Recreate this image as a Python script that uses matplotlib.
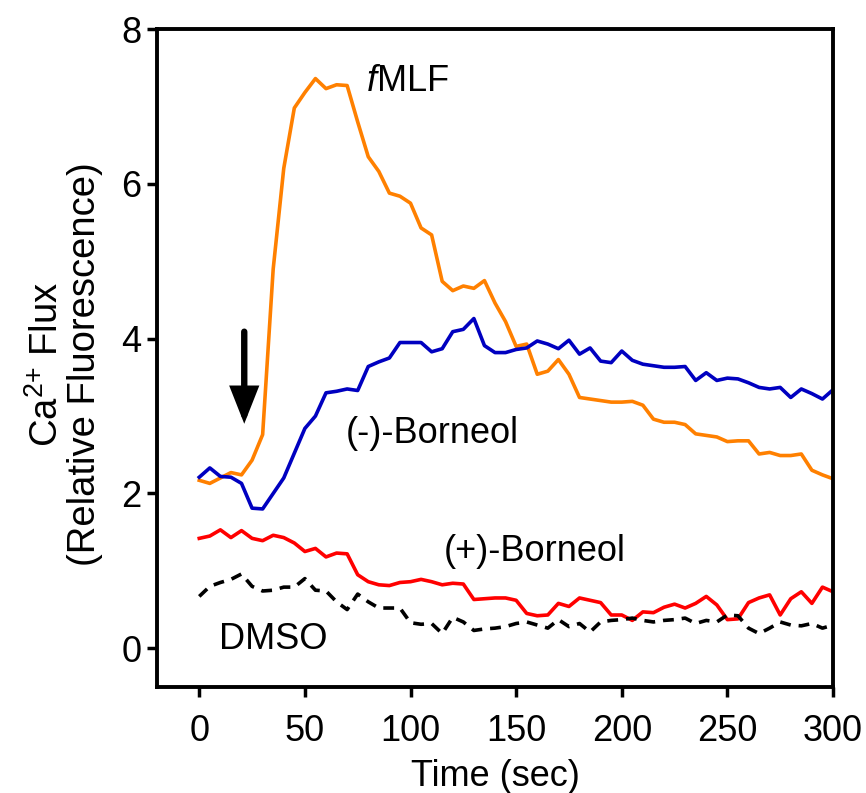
import numpy as np
import matplotlib
matplotlib.use("Agg")
import matplotlib.pyplot as plt

plt.rcParams['font.family'] = ['Liberation Sans', 'DejaVu Sans']
plt.rcParams['mathtext.fontset'] = 'custom'
plt.rcParams['mathtext.rm'] = 'Liberation Sans'
plt.rcParams['mathtext.it'] = 'Liberation Sans:italic'

# time points (sec), one every 5 s
time = np.arange(0, 301, 5)

fmlf = [2.17, 2.13, 2.20, 2.27, 2.24, 2.43, 2.76, 4.90, 6.20, 6.98,
        7.18, 7.36, 7.23, 7.28, 7.27, 6.80, 6.35, 6.16, 5.88, 5.84,
        5.75, 5.43, 5.34, 4.74, 4.62, 4.68, 4.65, 4.75, 4.46, 4.22,
        3.90, 3.93, 3.54, 3.58, 3.73, 3.54, 3.24, 3.22, 3.20, 3.18,
        3.18, 3.19, 3.14, 2.96, 2.92, 2.92, 2.89, 2.77, 2.75, 2.73,
        2.67, 2.68, 2.68, 2.51, 2.53, 2.49, 2.49, 2.51, 2.30, 2.24,
        2.19]

minus_borneol = [2.21, 2.33, 2.22, 2.21, 2.13, 1.81, 1.80, 2.00, 2.20, 2.52,
                 2.84, 3.00, 3.30, 3.32, 3.35, 3.33, 3.64, 3.70, 3.75, 3.95,
                 3.95, 3.95, 3.83, 3.87, 4.09, 4.12, 4.26, 3.91, 3.82, 3.82,
                 3.86, 3.88, 3.97, 3.93, 3.87, 3.98, 3.80, 3.88, 3.71, 3.69,
                 3.84, 3.72, 3.67, 3.65, 3.63, 3.63, 3.64, 3.46, 3.56, 3.46,
                 3.49, 3.48, 3.43, 3.37, 3.35, 3.37, 3.24, 3.35, 3.29, 3.22,
                 3.34]

plus_borneol = [1.42, 1.45, 1.53, 1.43, 1.52, 1.42, 1.39, 1.46, 1.43, 1.36,
                1.25, 1.29, 1.18, 1.23, 1.22, 0.95, 0.86, 0.82, 0.81, 0.85,
                0.86, 0.89, 0.86, 0.82, 0.84, 0.83, 0.63, 0.64, 0.65, 0.65,
                0.62, 0.45, 0.42, 0.43, 0.58, 0.54, 0.65, 0.62, 0.59, 0.43,
                0.43, 0.36, 0.47, 0.46, 0.53, 0.57, 0.52, 0.58, 0.67, 0.56,
                0.37, 0.38, 0.59, 0.65, 0.69, 0.43, 0.64, 0.73, 0.58, 0.79,
                0.73]

dmso = [0.67, 0.80, 0.85, 0.89, 0.96, 0.80, 0.74, 0.75, 0.79, 0.79,
        0.90, 0.75, 0.74, 0.60, 0.50, 0.70, 0.60, 0.52, 0.52, 0.52,
        0.33, 0.31, 0.32, 0.19, 0.40, 0.34, 0.23, 0.25, 0.26, 0.28,
        0.32, 0.34, 0.30, 0.26, 0.37, 0.28, 0.32, 0.21, 0.34, 0.36,
        0.37, 0.39, 0.36, 0.34, 0.36, 0.37, 0.39, 0.32, 0.36, 0.34,
        0.43, 0.42, 0.26, 0.19, 0.26, 0.34, 0.30, 0.29, 0.32, 0.26,
        0.30]

fig = plt.figure(figsize=(8.66, 7.93), dpi=100)
ax = fig.add_axes([0.1813, 0.1337, 0.7806, 0.8297])

lw = 2.6
ax.plot(time, fmlf, color='#FF8000', lw=lw)
ax.plot(time, minus_borneol, color='#0000C0', lw=lw)
ax.plot(time, plus_borneol, color='#FF0000', lw=lw)
ax.plot(time, dmso, color='black', lw=lw, linestyle=(0, (3, 2.2)))

fs = 26
ax.text(98.5, 7.32, r'$\mathit{f}$MLF', fontsize=fs, ha='center', va='center')
ax.text(110.5, 2.78, '(-)-Borneol', fontsize=fs, ha='center', va='center')
ax.text(159, 1.25, '(+)-Borneol', fontsize=fs, ha='center', va='center')
ax.text(35, 0.11, 'DMSO', fontsize=fs, ha='center', va='center')

# arrow marking stimulus addition
ax.annotate('', xy=(21.3, 2.9), xytext=(21.3, 4.09),
            arrowprops=dict(arrowstyle='-|>,head_length=19,head_width=7.5',
                            mutation_scale=1, color='black', lw=4.6,
                            shrinkA=0, shrinkB=0, joinstyle='miter'))

ax.set_xlim(-20, 300)
ax.set_ylim(-0.5, 8)
ax.set_xticks([0, 50, 100, 150, 200, 250, 300])
ax.set_yticks([0, 2, 4, 6, 8])
ax.tick_params(labelsize=26, length=7.5, width=2.5, direction='out')
ax.tick_params(axis='x', pad=12)
ax.tick_params(axis='y', pad=3.5)
for s in ax.spines.values():
    s.set_linewidth(2.8)

ax.set_xlabel('Time (sec)', fontsize=26, labelpad=7)
ax.set_ylabel('Ca$^{2{+}}$ Flux\n(Relative Fluorescence)', fontsize=27.5,
              linespacing=1.05)
ax.yaxis.set_label_coords(-0.08, 0.49)

fig.savefig('out.png', dpi=100)
